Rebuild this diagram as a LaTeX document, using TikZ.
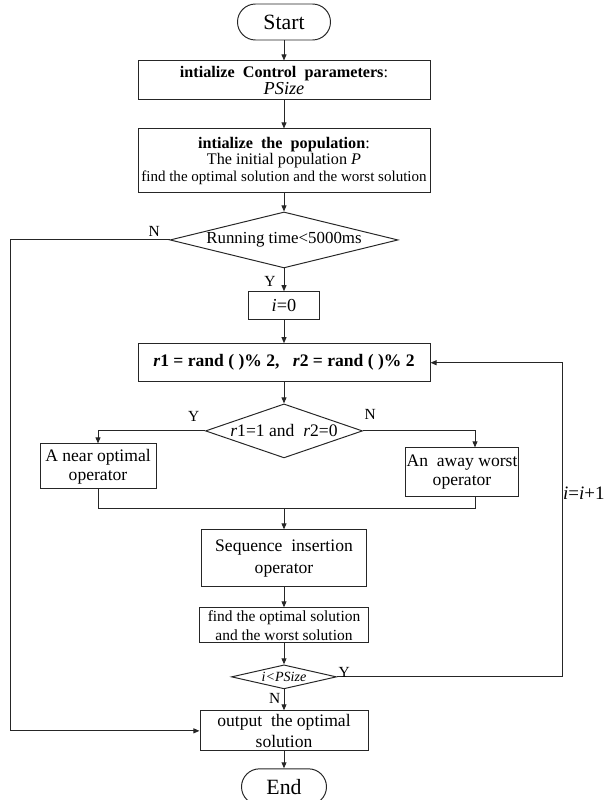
\documentclass[tikz,border=0pt]{standalone}
\usepackage{fontspec}
\setmainfont{Liberation Serif}
\usetikzlibrary{positioning,arrows.meta,shapes.geometric,calc}
\newcommand{\setfs}[2]{\fontsize{#1pt}{#2pt}\selectfont}

\begin{document}
\begin{tikzpicture}[
  procBox/.style={rectangle, draw=black!85, line width=0.7pt, align=center,
                  inner sep=1pt},
  termBox/.style={procBox, rounded corners=0.45cm, font=\setfs{15.5}{18}},
  decBox/.style={diamond, draw=black!85, line width=0.7pt, inner sep=0pt,
                 align=center},
  flow/.style={line width=0.7pt, draw=black!85,
               -{Triangle[length=4.3pt,width=3.5pt]}},
  line/.style={line width=0.7pt, draw=black!85},
  yn/.style={font=\setfs{11}{13}, inner sep=1pt}
]
  \useasboundingbox (0,0) rectangle (15.125,-20);

  % Main column
  \node[termBox, minimum width=2.325cm, minimum height=0.9cm] (start)
    at (7.1,-0.55) {Start};
  \node[procBox, minimum width=7.3cm, minimum height=0.975cm,
        below=0.5cm of start] (init1)
    {\setfs{11.5}{13.5}\textbf{intialize~ Control~ parameters}:\\
     \setfs{13}{14.5}\textit{PSize}};
  \node[procBox, minimum width=7.3cm, minimum height=1.6cm,
        below=0.7cm of init1] (init2)
    {\setfs{11.5}{13}\textbf{intialize~ the~ population}:\\
     \setfs{11.5}{11.5}The initial population \textit{P}\\
     \setfs{10.7}{12}find the optimal solution and the worst solution};
  \node[decBox, aspect=4.07, minimum width=5.7cm, minimum height=1.4cm,
        font=\setfs{12}{14}, below=0.45cm of init2] (run)
    {Running time<5000ms};
  \node[procBox, minimum width=1.775cm, minimum height=0.7cm,
        font=\setfs{13}{15}, below=0.57cm of run] (i0) {\textit{i}=0};
  \node[procBox, minimum width=7.3cm, minimum height=0.95cm,
        font=\setfs{12.5}{15}\bfseries, below=0.575cm of i0] (rbox)
    {\textit{r}1 = rand ( )\% 2,~~ \textit{r}2 = rand ( )\% 2};
  \node[decBox, aspect=2.9, minimum width=3.925cm, minimum height=1.35cm,
        font=\setfs{12.5}{14}, below=0.53cm of rbox] (chk)
    {\textit{r}1=1 and~ \textit{r}2=0};

  % Two operators
  \node[procBox, minimum width=2.9cm, minimum height=1.125cm,
        font=\setfs{12.5}{13.5}] (near) at (2.45,-11.66)
    {A near optimal\\operator};
  \node[procBox, minimum width=2.3cm, minimum height=1.225cm,
        font=\setfs{12.5}{13.5}] (away) at (11.55,-11.81)
    {An~ away worst\\operator};

  \node[procBox, minimum width=4.125cm, minimum height=1.425cm,
        font=\setfs{12.5}{16}, below=1.775cm of chk] (seq)
    {Sequence~ insertion\\operator};
  \node[procBox, minimum width=4.225cm, minimum height=0.875cm,
        font=\setfs{11}{13.2}, below=0.5cm of seq] (find)
    {find the optimal solution\\and the worst solution};
  \node[decBox, aspect=4.375, minimum width=2.625cm, minimum height=0.6cm,
        font=\setfs{10}{12}\itshape, below=0.525cm of find] (lt)
    {i<PSize};
  \node[procBox, minimum width=4.2cm, minimum height=1cm,
        font=\setfs{12.5}{15}, below=0.525cm of lt] (out)
    {output~ the optimal\\solution};
  \node[termBox, minimum width=2.125cm, minimum height=0.9cm,
        below=0.425cm of out] (end) {End};

  % Bend points
  \coordinate (leftX) at (0.25,0);
  \coordinate (rightX) at (14.05,0);
  \coordinate (mergeR) at (11.875,-12.7);
  \coordinate (mergeC) at (7.1,-12.7);

  % Connectors
  \draw[flow] (start) -- (init1);
  \draw[flow] (init1) -- (init2);
  \draw[flow] (init2) -- (run);
  \draw[flow] (run) -- (i0);
  \draw[flow] (i0) -- (rbox);
  \draw[flow] (rbox) -- (chk);
  \draw[flow] (chk.west) -| (near.north);
  \draw[flow] (chk.east) -| (mergeR |- away.north);
  \draw[line] (near.south) |- (mergeR) -- (mergeR |- away.south);
  \draw[flow] (mergeC) -- (seq);
  \draw[flow] (seq) -- (find);
  \draw[flow] (find) -- (lt);
  \draw[flow] (lt) -- (out);
  \draw[flow] (out) -- (end);
  \draw[flow] (run.west) -- (run.west -| leftX) |- (out.west);
  \draw[flow] (lt.east) -- (lt.east -| rightX) |- (rbox.east);

  % Branch labels
  \node[yn, above left=0.04cm and 0.2cm of run.west] (runN) {N};
  \node[yn, below left=0.15cm and 0.17cm of run.south] (runY) {Y};
  \node[yn, above left=0.2cm and 0.1cm of chk.west] (chkY) {Y};
  \node[yn, above right=0.25cm and 0cm of chk.east] (chkN) {N};
  \node[yn, above right=-0.05cm and 0cm of lt.east] (ltY) {Y};
  \node[yn, below left=0.05cm and 0.05cm of lt.south] (ltN) {N};
  \node[anchor=west, inner sep=0pt, font=\setfs{13.5}{15}] (incr)
    at (14.07,-12.33) {\textit{i}=\textit{i}+1};
\end{tikzpicture}
\end{document}
